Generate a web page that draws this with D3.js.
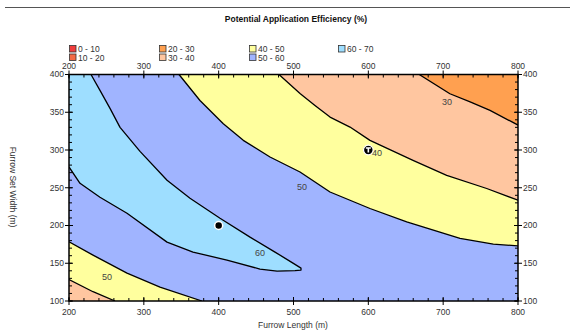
<!DOCTYPE html>
<html><head><meta charset="utf-8">
<script src="https://cdn.jsdelivr.net/npm/d3@7"></script>
<style>body{margin:0;background:#fff} svg{display:block} text{font-family:"Liberation Sans",Arial,sans-serif}</style>
</head><body><svg id="c" width="574" height="334"></svg>
<script>
const title = "Potential Application Efficiency (%)";
const xLabel = "Furrow Length (m)";
const yLabel = "Furrow Set Width (m)";
const xTicks = [200,300,400,500,600,700,800];
const yTicks = [100,150,200,250,300,350,400];
const bands = ["0 - 10","10 - 20","20 - 30","30 - 40","40 - 50","50 - 60","60 - 70"];
const bandColors = ["#f03c3c","#f26a44","#ffa050","#ffc6a0","#ffff9e","#a0b4ff","#9edeff"];

// contour lines (furrow length, set width)
const c30Upper = [[668,400],[709,374.5],[736,363.7],[762.6,352.4],[800,333]];
const c40Upper = [[480.6,400],[508.7,374.9],[528.7,359],[548.8,343.6],[575.5,330.4],[602.2,312.8],[659.7,286.3],[704.7,266.5],[758.2,249],[800,233.5]];
const c50Upper = [[347,400],[375,365.6],[406.2,334.8],[432.9,312.8],[468.6,290.7],[508.7,270.9],[548.8,244.4],[602.2,222.5],[651.3,204.8],[722.5,182.9],[767,175.3],[800,173]];
const c60Loop = [[229.4,400],[241.4,378.9],[254.8,355.1],[268.2,330],[294.9,298.2],[331,259.9],[361.7,236.1],[401.8,209.7],[441.9,184.6],[475.3,164.8],[499.3,150.2],[510,143.6],[510,141],
  [502,140.3],[478,139.6],[455.2,142.3],[411.1,154.2],[365.7,164.8],[331,178],[277.5,216.3],[241.4,237.4],[214.7,255.9],[200,277.5]];
const c50Lower = [[200,178.4],[232.1,160.8],[277.5,137],[321.6,118.5],[377.7,100]];
const c40Lower = [[200,128.4],[232.1,112.3],[261.5,100]];
const contourLabels = [["30",705,364],["40",611.6,295.6],["50",511.4,250.7],["60",455.2,163.4],["50",250.8,131.7]];
const markers = [[400,200,"dot"],[600,300,"T"]];

const svg = d3.select("#c");
const L=69,R=518,T=74.5,B=301;
const x = d3.scaleLinear().domain([200,800]).range([L,R]);
const y = d3.scaleLinear().domain([100,400]).range([B,T]);

svg.append("line").attr("x1",5).attr("x2",570).attr("y1",7.5).attr("y2",7.5).attr("stroke","#555").attr("stroke-width",1);
svg.append("text").attr("x",296).attr("y",22).attr("text-anchor","middle").attr("font-size",8.5).attr("font-weight","bold").attr("fill","#111").text(title);

// legend
const legCols=[69.5,159.5,249.5,338.5];
bands.forEach((b,i)=>{
  const col=Math.floor(i/2), row=i%2;
  const g=svg.append("g").attr("transform",`translate(${legCols[col]},${45.5+row*8.5})`);
  g.append("rect").attr("width",6.5).attr("height",6.5).attr("fill",bandColors[i]).attr("stroke","#333").attr("stroke-width",0.8);
  g.append("text").attr("x",8.5).attr("y",6.5).attr("font-size",8.5).attr("fill","#333").text(b);
});

svg.append("defs").append("clipPath").attr("id","pc").append("rect").attr("x",L).attr("y",T).attr("width",R-L).attr("height",B-T);
const plot = svg.append("g").attr("clip-path","url(#pc)");
const line = d3.line().x(d=>x(d[0])).y(d=>y(d[1]));
plot.append("rect").attr("x",L).attr("y",T).attr("width",R-L).attr("height",B-T).attr("fill",bandColors[5]);
const regions = [
  [c50Upper.concat([[800,400]]),4],
  [c40Upper.concat([[800,400]]),3],
  [c30Upper.concat([[800,400]]),2],
  [c60Loop.concat([[200,400]]),6],
  [c50Lower.concat([[200,100]]),4],
  [c40Lower.concat([[200,100]]),3]
];
regions.forEach(([pts,ci])=>{
  plot.append("path").attr("d",line(pts)+"Z").attr("fill",bandColors[ci]);
});
[c30Upper,c40Upper,c50Upper,c60Loop,c50Lower,c40Lower].forEach(pts=>{
  plot.append("path").attr("d",line(pts)).attr("fill","none").attr("stroke","#000").attr("stroke-width",1.3).attr("stroke-linejoin","round");
});
contourLabels.forEach(([t,a,b])=>{
  plot.append("text").attr("x",x(a)).attr("y",y(b)).attr("dy","0.35em").attr("text-anchor","middle").attr("font-size",9).attr("fill","#444").text(t);
});
markers.forEach(([a,b,k])=>{
  if(k==="dot"){
    plot.append("circle").attr("cx",x(a)).attr("cy",y(b)).attr("r",4).attr("fill","#000").attr("stroke","#fff").attr("stroke-width",1.5);
  } else {
    plot.append("circle").attr("cx",x(a)).attr("cy",y(b)).attr("r",4.8).attr("fill","#000").attr("stroke","#fff").attr("stroke-width",1.2);
    plot.append("path").attr("d",`M${x(a)-2.5},${y(b)-2}h5M${x(a)},${y(b)-2}v4.5`).attr("stroke","#fff").attr("stroke-width",1.6);
  }
});

// frame
svg.append("rect").attr("x",L).attr("y",T).attr("width",R-L).attr("height",B-T).attr("fill","none").attr("stroke","#000").attr("stroke-width",1.5);

// ticks
const tk = svg.append("g").attr("stroke","#000").attr("stroke-width",1);
const xMinor = d3.range(200,801,20), yMinor = d3.range(100,401,10);
xMinor.forEach(v=>{ tk.append("line").attr("x1",x(v)).attr("x2",x(v)).attr("y1",B).attr("y2",B-3);
                    tk.append("line").attr("x1",x(v)).attr("x2",x(v)).attr("y1",T).attr("y2",T+3); });
yMinor.forEach(v=>{ tk.append("line").attr("y1",y(v)).attr("y2",y(v)).attr("x1",L).attr("x2",L+3);
                    tk.append("line").attr("y1",y(v)).attr("y2",y(v)).attr("x1",R).attr("x2",R-3); });
xTicks.forEach(v=>{ tk.append("line").attr("x1",x(v)).attr("x2",x(v)).attr("y1",B-4).attr("y2",B+4);
                    tk.append("line").attr("x1",x(v)).attr("x2",x(v)).attr("y1",T-4).attr("y2",T+4); });
yTicks.forEach(v=>{ tk.append("line").attr("y1",y(v)).attr("y2",y(v)).attr("x1",L-4).attr("x2",L+4);
                    tk.append("line").attr("y1",y(v)).attr("y2",y(v)).attr("x1",R-4).attr("x2",R+4); });
const lab = svg.append("g").attr("font-size",8.5).attr("fill","#333");
xTicks.forEach(v=>{
  lab.append("text").attr("x",x(v)).attr("y",B+14).attr("text-anchor","middle").text(v);
  lab.append("text").attr("x",x(v)).attr("y",T-6).attr("text-anchor","middle").text(v);
});
yTicks.forEach(v=>{
  lab.append("text").attr("x",L-5).attr("y",y(v)).attr("dy","0.35em").attr("text-anchor","end").text(v);
  lab.append("text").attr("x",R+5).attr("y",y(v)).attr("dy","0.35em").attr("text-anchor","start").text(v);
});
svg.append("text").attr("x",293).attr("y",328).attr("text-anchor","middle").attr("font-size",8.5).attr("fill","#333").text(xLabel);
svg.append("text").attr("transform","translate(10,187) rotate(90)").attr("text-anchor","middle").attr("font-size",8.5).attr("fill","#333").text(yLabel);
</script></body></html>
